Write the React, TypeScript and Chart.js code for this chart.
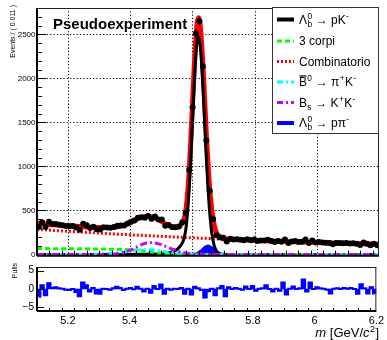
import React, { useEffect, useRef } from 'react';
import { Chart, registerables } from 'chart.js';

Chart.register(...registerables);

const FONT = '"Liberation Sans", Arial, Helvetica, sans-serif';

// ---------- data: binned pseudo-experiment (bin width 0.011 GeV/c^2) ----------
const binCenters: number[] = [
  5.1055, 5.1165, 5.1275, 5.1385, 5.1495, 5.1605, 5.1715, 5.1825, 5.1935, 5.2045,
  5.2155, 5.2265, 5.2375, 5.2485, 5.2595, 5.2705, 5.2815, 5.2925, 5.3035, 5.3145,
  5.3255, 5.3365, 5.3475, 5.3585, 5.3695, 5.3805, 5.3915, 5.4025, 5.4135, 5.4245,
  5.4355, 5.4465, 5.4575, 5.4685, 5.4795, 5.4905, 5.5015, 5.5125, 5.5235, 5.5345,
  5.5455, 5.5565, 5.5675, 5.5785, 5.5895, 5.6005, 5.6115, 5.6225, 5.6335, 5.6445,
  5.6555, 5.6665, 5.6775, 5.6885, 5.6995, 5.7105, 5.7215, 5.7325, 5.7435, 5.7545,
  5.7655, 5.7765, 5.7875, 5.7985, 5.8095, 5.8205, 5.8315, 5.8425, 5.8535, 5.8645,
  5.8755, 5.8865, 5.8975, 5.9085, 5.9195, 5.9305, 5.9415, 5.9525, 5.9635, 5.9745,
  5.9855, 5.9965, 6.0075, 6.0185, 6.0295, 6.0405, 6.0515, 6.0625, 6.0735, 6.0845,
  6.0955, 6.1065, 6.1175, 6.1285, 6.1395, 6.1505, 6.1615, 6.1725, 6.1835, 6.1945,
];
const binHalfWidth = 0.0055;

const dataCounts: number[] = [
  311, 366, 312, 371, 344, 345, 337, 332, 323, 320,
  322, 306, 281, 347, 331, 299, 314, 285, 282, 307,
  306, 303, 312, 326, 329, 328, 351, 372, 384, 417,
  423, 416, 436, 405, 431, 395, 396, 326, 333, 310,
  309, 318, 366, 471, 958, 1672, 2510, 2650, 2136, 1295,
  724, 402, 218, 196, 189, 146, 178, 169, 172, 167,
  162, 172, 162, 170, 153, 158, 158, 166, 153, 142,
  151, 143, 169, 128, 146, 151, 142, 143, 170, 130,
  158, 136, 141, 136, 133, 129, 116, 130, 130, 126,
  128, 125, 126, 122, 107, 134, 121, 105, 122, 103,
];

const pulls: number[] = [
  -2.1, 1.0, -1.7, 1.6, 0.3, 0.5, 0.2, 0.1, -0.2, -0.3,
  0.0, -0.8, -2.0, 1.8, 1.0, -0.7, 0.3, -1.2, -1.3, 0.1,
  0.0, -0.2, 0.2, 0.6, 0.3, -0.3, 0.1, 0.3, -0.1, 0.6,
  0.1, -0.7, 0.1, -1.0, 0.8, 0.0, 1.2, -1.3, 0.1, -0.2,
  0.1, 0.0, 0.3, -1.3, 0.1, -1.5, 0.6, 0.2, -0.3, -2.3,
  -0.6, 0.1, -1.7, 0.2, 0.8, -2.0, 0.5, 0.0, 0.3, 0.1,
  -0.2, 0.7, 0.0, 0.8, -0.5, 0.1, 0.2, 1.0, 0.0, -0.7,
  0.1, -0.5, 1.8, -1.5, 0.1, 0.7, 0.0, 0.2, 2.6, -0.7,
  1.8, 0.0, 0.5, 0.2, 0.1, -0.2, -1.2, 0.1, 0.2, 0.0,
  0.3, 0.1, 0.3, 0.0, -1.3, 1.3, 0.2, -1.2, 0.5, -1.2,
];

// ---------- fit curves (events per bin) ----------
const fitMass: number[] = [
  5.10, 5.15, 5.20, 5.25, 5.30, 5.35, 5.38, 5.40, 5.42, 5.44,
  5.46, 5.48, 5.50, 5.52, 5.54, 5.55, 5.56, 5.57, 5.575, 5.58,
  5.585, 5.59, 5.595, 5.60, 5.605, 5.61, 5.615, 5.619, 5.625, 5.63,
  5.635, 5.64, 5.645, 5.65, 5.655, 5.66, 5.665, 5.67, 5.675, 5.68,
  5.69, 5.70, 5.72, 5.75, 5.80, 5.85, 5.90, 5.95, 6.00, 6.05,
  6.10, 6.15, 6.20,
];
const fitTotal: number[] = [
  351, 338, 326, 315, 305, 309, 332, 362, 398, 427,
  434, 414, 376, 335, 307, 308, 325, 372, 426, 531,
  717, 984, 1321, 1699, 2079, 2410, 2625, 2688, 2596, 2371,
  2056, 1700, 1344, 1026, 766, 570, 430, 332, 267, 227,
  189, 177, 171, 167, 160, 153, 147, 141, 136, 130,
  125, 120, 115,
];
const sigLbToPK: number[] = [
  0, 0, 0, 0, 0, 0, 0, 0, 1, 2,
  3, 5, 8, 16, 35, 55, 90, 150, 210, 320,
  510, 780, 1120, 1500, 1880, 2210, 2420, 2475, 2370, 2130,
  1800, 1430, 1065, 745, 490, 305, 180, 100, 52, 26,
  6, 1, 0, 0, 0, 0, 0, 0, 0, 0,
  0, 0, 0,
];
const treCorpi: number[] = [
  66, 65, 64, 63, 61, 58, 55, 52, 47, 40,
  31, 22, 14, 7, 3, 1, 0, 0, 0, 0,
  0, 0, 0, 0, 0, 0, 0, 0, 0, 0,
  0, 0, 0, 0, 0, 0, 0, 0, 0, 0,
  0, 0, 0, 0, 0, 0, 0, 0, 0, 0,
  0, 0, 0,
];
const combinatorio: number[] = [
  285, 273, 262, 252, 242, 232, 226, 223, 219, 215,
  212, 208, 205, 202, 198, 197, 195, 193, 192, 191,
  191, 190, 189, 188, 188, 187, 186, 186, 185, 184,
  184, 183, 182, 181, 180, 179, 179, 178, 177, 176,
  175, 174, 171, 167, 160, 153, 147, 141, 136, 130,
  125, 120, 115,
];
const b0ToPiK: number[] = [
  0, 0, 0, 0, 2, 14, 28, 39, 49, 54,
  54, 49, 39, 28, 18, 14, 10, 7, 6, 5,
  4, 4, 3, 2, 2, 1, 1, 1, 1, 1,
  0, 0, 0, 0, 0, 0, 0, 0, 0, 0,
  0, 0, 0, 0, 0, 0, 0, 0, 0, 0,
  0, 0, 0,
];
const bsToKK: number[] = [
  0, 0, 0, 0, 0, 5, 23, 48, 82, 116,
  134, 130, 110, 82, 53, 41, 30, 22, 18, 15,
  12, 10, 8, 7, 5, 4, 3, 3, 2, 2,
  1, 1, 1, 0, 0, 0, 0, 0, 0, 0,
  0, 0, 0, 0, 0, 0, 0, 0, 0, 0,
  0, 0, 0,
];
const lbToPPi: number[] = [
  0, 0, 0, 0, 0, 0, 0, 0, 0, 0,
  0, 0, 0, 0, 0, 0, 0, 0, 0, 0,
  0, 0, 1, 2, 4, 8, 15, 23, 38, 54,
  71, 86, 96, 100, 96, 86, 71, 54, 38, 25,
  8, 2, 0, 0, 0, 0, 0, 0, 0, 0,
  0, 0, 0,
];

// ---------- axes ----------
const xMin = 5.1;
const xMax = 6.2;
const xTicks: number[] = [5.2, 5.4, 5.6, 5.8, 6.0, 6.2];
const xTickLabels: string[] = ['5.2', '5.4', '5.6', '5.8', '6', '6.2'];
const yTicksMain: number[] = [0, 500, 1000, 1500, 2000, 2500];
const yMinMain = -15;
const yMaxMain = 2800;
const pullTicks: number[] = [-5, 0, 5];
const pullTickLabels: string[] = ['\u22125', '0', '5'];

// ---------- rich text helper ----------
type Part = { t?: string; sup?: string; sub?: string; italic?: boolean; bar?: boolean };

function fnt(size: number, italic = false, bold = false) {
  return `${italic ? 'italic ' : ''}${bold ? 'bold ' : ''}${size}px ${FONT}`;
}

function partWidth(ctx: CanvasRenderingContext2D, p: Part, size: number) {
  if (p.t !== undefined) {
    ctx.font = fnt(size, !!p.italic);
    return ctx.measureText(p.t).width;
  }
  ctx.font = fnt(size * 0.7);
  const a = p.sup ? ctx.measureText(p.sup).width : 0;
  const b = p.sub ? ctx.measureText(p.sub).width : 0;
  return Math.max(a, b) + size * 0.06;
}

function drawRich(ctx: CanvasRenderingContext2D, parts: Part[], x: number, y: number, size: number, align: 'left' | 'right') {
  ctx.save();
  ctx.textAlign = 'left';
  ctx.textBaseline = 'alphabetic';
  const widths = parts.map((p) => partWidth(ctx, p, size));
  const total = widths.reduce((s, w) => s + w, 0);
  let cx = align === 'right' ? x - total : x;
  parts.forEach((p, i) => {
    if (p.t !== undefined) {
      ctx.font = fnt(size, !!p.italic);
      ctx.fillText(p.t, cx, y);
      if (p.bar) {
        ctx.save();
        ctx.strokeStyle = ctx.fillStyle as string;
        ctx.lineWidth = 1.2;
        ctx.beginPath();
        ctx.moveTo(cx + 0.5, y - size * 0.86);
        ctx.lineTo(cx + widths[i] - 0.5, y - size * 0.86);
        ctx.stroke();
        ctx.restore();
      }
    } else {
      ctx.font = fnt(size * 0.7);
      if (p.sup) ctx.fillText(p.sup, cx + size * 0.03, y - size * 0.42);
      if (p.sub) ctx.fillText(p.sub, cx + size * 0.03, y + size * 0.24);
    }
    cx += widths[i];
  });
  ctx.restore();
}

const legendEntries: { parts: Part[]; color: string; width: number; dash: number[] }[] = [
  { parts: [{ t: 'Λ' }, { sup: '0', sub: 'b' }, { t: ' → pK' }, { sup: '-' }], color: '#000000', width: 4, dash: [] },
  { parts: [{ t: '3 corpi' }], color: '#00ff00', width: 3, dash: [5, 3] },
  { parts: [{ t: 'Combinatorio' }], color: '#ff0000', width: 3, dash: [2, 2] },
  { parts: [{ t: 'B', bar: true }, { sup: '0' }, { t: ' → π' }, { sup: '+' }, { t: 'K' }, { sup: '-' }], color: '#00ffff', width: 3, dash: [6, 3, 2, 3] },
  { parts: [{ t: 'B' }, { sub: 's' }, { t: ' → K' }, { sup: '+' }, { t: 'K' }, { sup: '-' }], color: '#cc00ff', width: 3, dash: [6, 3, 2, 3] },
  { parts: [{ t: 'Λ' }, { sup: '0', sub: 'b' }, { t: ' → pπ' }, { sup: '-' }], color: '#0000ff', width: 4, dash: [] },
];

function curve(label: string, values: number[], color: string, width: number, dash: number[], extra: any = {}) {
  return {
    label,
    data: fitMass.map((x, i) => ({ x, y: values[i] })),
    borderColor: color,
    backgroundColor: color,
    borderWidth: width,
    borderDash: dash,
    pointRadius: 0,
    pointHoverRadius: 0,
    cubicInterpolationMode: 'monotone',
    fill: false,
    ...extra,
  };
}

const mainDecor = {
  id: 'mainDecor',
  beforeDatasetsDraw(chart: any) {
    const { ctx, chartArea: a, scales } = chart;
    const sx = scales.x;
    const sy = scales.y;
    ctx.save();
    ctx.strokeStyle = '#000';
    ctx.lineWidth = 1;
    ctx.setLineDash([1.2, 2.1]);
    xTicks.forEach((v) => {
      const px = Math.round(sx.getPixelForValue(v)) + 0.5;
      if (px >= a.right - 1) return;
      ctx.beginPath();
      ctx.moveTo(px, a.top);
      ctx.lineTo(px, a.bottom);
      ctx.stroke();
    });
    yTicksMain.forEach((v) => {
      if (v === 0) return;
      const py = Math.round(sy.getPixelForValue(v)) + 0.5;
      ctx.beginPath();
      ctx.moveTo(a.left, py);
      ctx.lineTo(a.right, py);
      ctx.stroke();
    });
    ctx.restore();
  },
  beforeDatasetDraw(chart: any, args: any) {
    if (args.index !== 0) return;
    const { ctx, scales } = chart;
    const sx = scales.x;
    const sy = scales.y;
    ctx.save();
    ctx.strokeStyle = '#000';
    binCenters.forEach((c, i) => {
      const v = dataCounts[i];
      const e = Math.sqrt(v);
      const px = sx.getPixelForValue(c);
      ctx.lineWidth = 1;
      ctx.beginPath();
      ctx.moveTo(px, sy.getPixelForValue(v - e));
      ctx.lineTo(px, sy.getPixelForValue(v + e));
      ctx.stroke();
      ctx.lineWidth = 1.5;
      ctx.beginPath();
      ctx.moveTo(sx.getPixelForValue(c - binHalfWidth), sy.getPixelForValue(v));
      ctx.lineTo(sx.getPixelForValue(c + binHalfWidth), sy.getPixelForValue(v));
      ctx.stroke();
    });
    ctx.restore();
  },
  afterDraw(chart: any) {
    const { ctx, chartArea: a, scales } = chart;
    const sx = scales.x;
    const sy = scales.y;
    ctx.save();
    ctx.setLineDash([]);
    ctx.strokeStyle = '#000';
    // ticks (inward)
    ctx.lineWidth = 1;
    for (let v = 100; v < yMaxMain; v += 100) {
      const py = Math.round(sy.getPixelForValue(v)) + 0.5;
      const len = v % 500 === 0 ? 9 : 5;
      ctx.beginPath();
      ctx.moveTo(a.left, py);
      ctx.lineTo(a.left + len, py);
      ctx.stroke();
    }
    for (let k = 1; k < 28; k++) {
      const v = xMin + k * 0.04;
      const px = Math.round(sx.getPixelForValue(v)) + 0.5;
      const isMajor = Math.abs((v - 5.2) / 0.2 - Math.round((v - 5.2) / 0.2)) < 1e-6;
      const len = isMajor ? 9 : 5;
      ctx.beginPath();
      ctx.moveTo(px, a.bottom);
      ctx.lineTo(px, a.bottom - len);
      ctx.stroke();
    }
    // frame
    ctx.lineWidth = 1;
    ctx.strokeStyle = '#222';
    ctx.beginPath();
    ctx.moveTo(a.left, a.top + 0.5);
    ctx.lineTo(a.right, a.top + 0.5);
    ctx.moveTo(a.right - 0.5, a.top);
    ctx.lineTo(a.right - 0.5, a.bottom);
    ctx.stroke();
    ctx.strokeStyle = '#000';
    ctx.lineWidth = 2;
    ctx.beginPath();
    ctx.moveTo(a.left, a.top);
    ctx.lineTo(a.left, a.bottom);
    ctx.moveTo(a.left, a.bottom);
    ctx.lineTo(a.right, a.bottom);
    ctx.stroke();

    // title
    ctx.fillStyle = '#000';
    ctx.font = fnt(15, false, true);
    ctx.textAlign = 'left';
    ctx.textBaseline = 'alphabetic';
    ctx.fillText('Pseudoexperiment', 53, 28.5);

    // y title
    ctx.save();
    ctx.translate(14.5, 5);
    ctx.rotate(-Math.PI / 2);
    ctx.font = fnt(7);
    ctx.textAlign = 'right';
    ctx.fillText('Events / ( 0.011 )', 0, 0);
    ctx.restore();

    // legend
    const L = 272.5, T = 7.5, R = 378.5, B = 133.5;
    ctx.fillStyle = '#fff';
    ctx.fillRect(L, T, R - L, B - T);
    ctx.strokeStyle = '#333';
    ctx.lineWidth = 1;
    ctx.strokeRect(L, T, R - L, B - T);
    const rows = [19.5, 41, 61.5, 82, 102.5, 123];
    legendEntries.forEach((e, i) => {
      const y = rows[i];
      ctx.beginPath();
      ctx.strokeStyle = e.color;
      ctx.lineWidth = e.width;
      ctx.setLineDash(e.dash);
      ctx.moveTo(277, y);
      ctx.lineTo(294, y);
      ctx.stroke();
      ctx.setLineDash([]);
      ctx.fillStyle = '#000';
      drawRich(ctx, e.parts, 299, y + 4.3, 12, 'left');
    });
    ctx.restore();
  },
};

const pullDecor = {
  id: 'pullDecor',
  afterDraw(chart: any) {
    const { ctx, chartArea: a, scales } = chart;
    const sx = scales.x;
    const sy = scales.y;
    ctx.save();
    ctx.strokeStyle = '#000';
    ctx.lineWidth = 1;
    pullTicks.forEach((v) => {
      const py = Math.round(sy.getPixelForValue(v)) + 0.5;
      ctx.beginPath();
      ctx.moveTo(a.left, py);
      ctx.lineTo(a.left + 7, py);
      ctx.stroke();
    });
    for (let k = 1; k < 28; k++) {
      const v = xMin + k * 0.04;
      const px = Math.round(sx.getPixelForValue(v)) + 0.5;
      const isMajor = Math.abs((v - 5.2) / 0.2 - Math.round((v - 5.2) / 0.2)) < 1e-6;
      const len = isMajor ? 6 : 3;
      ctx.beginPath();
      ctx.moveTo(px, a.bottom);
      ctx.lineTo(px, a.bottom - len);
      ctx.stroke();
    }
    ctx.strokeStyle = '#222';
    ctx.beginPath();
    ctx.moveTo(a.left, a.top + 0.5);
    ctx.lineTo(a.right, a.top + 0.5);
    ctx.moveTo(a.right - 0.5, a.top);
    ctx.lineTo(a.right - 0.5, a.bottom);
    ctx.stroke();
    ctx.strokeStyle = '#000';
    ctx.lineWidth = 2;
    ctx.beginPath();
    ctx.moveTo(a.left, a.top);
    ctx.lineTo(a.left, a.bottom);
    ctx.moveTo(a.left, a.bottom);
    ctx.lineTo(a.right, a.bottom);
    ctx.stroke();

    ctx.fillStyle = '#000';
    ctx.save();
    ctx.translate(17, 5);
    ctx.rotate(-Math.PI / 2);
    ctx.font = fnt(7);
    ctx.textAlign = 'right';
    ctx.fillText('Pulls', 0, 0);
    ctx.restore();

    drawRich(ctx, [{ t: 'm', italic: true }, { t: ' [GeV/' }, { t: 'c', italic: true }, { sup: '2' }, { t: ']' }], 379, 79, 13, 'right');
    ctx.restore();
  },
};

function mainConfig(): any {
  return {
    type: 'line',
    data: {
      datasets: [
        {
          label: 'Dati',
          data: binCenters.map((x, i) => ({ x, y: dataCounts[i] })),
          showLine: false,
          pointRadius: 3,
          pointHoverRadius: 3,
          pointBorderWidth: 0,
          pointBackgroundColor: '#000',
          borderColor: '#000',
        },
        curve('Bs → K+K-', bsToKK, '#cc00ff', 3, [7, 3, 2, 3]),
        curve('B0bar → π+K-', b0ToPiK, '#00ffff', 3, [6, 3, 2, 3]),
        curve('3 corpi', treCorpi, '#00ff00', 3, [5, 3]),
        curve('Λb → pK-', sigLbToPK, '#000000', 3, []),
        curve('Λb → pπ-', lbToPPi, '#0000ff', 2, [], { fill: 'origin' }),
        curve('Combinatorio', combinatorio, '#ff0000', 3, [2, 2]),
        curve('Totale', fitTotal, '#ff0000', 5, []),
      ],
    },
    options: {
      responsive: false,
      animation: false,
      devicePixelRatio: 1,
      layout: { padding: { left: 0, right: 8, top: 8, bottom: 3 } },
      plugins: { legend: { display: false }, tooltip: { enabled: false } },
      events: [],
      scales: {
        x: { type: 'linear', min: xMin, max: xMax, display: false },
        y: {
          type: 'linear',
          min: yMinMain,
          max: yMaxMain,
          afterBuildTicks: (s: any) => {
            s.ticks = yTicksMain.map((v) => ({ value: v }));
          },
          afterFit: (s: any) => {
            s.width = 37;
          },
          ticks: { font: { family: FONT, size: 8 }, color: '#000', padding: 1.5, callback: (v: any) => String(v) },
          grid: { display: false, drawTicks: false },
          border: { display: false },
        },
      },
    },
    plugins: [mainDecor],
  };
}

function pullConfig(): any {
  const pts = binCenters.map((x, i) => ({ x, y: pulls[i] }));
  return {
    type: 'bar',
    data: {
      datasets: [
        {
          type: 'line',
          label: 'Pull outline',
          data: pts,
          stepped: 'middle',
          borderColor: '#0000ff',
          borderWidth: 2,
          pointRadius: 0,
          fill: false,
        },
        {
          type: 'bar',
          label: 'Pulls',
          data: pts,
          backgroundColor: '#0000ff',
          borderWidth: 0,
          barPercentage: 1,
          categoryPercentage: 1,
        },
      ],
    },
    options: {
      responsive: false,
      animation: false,
      devicePixelRatio: 1,
      layout: { padding: { left: 0, right: 8, top: 4, bottom: 0 } },
      plugins: { legend: { display: false }, tooltip: { enabled: false } },
      events: [],
      scales: {
        x: {
          type: 'linear',
          min: xMin,
          max: xMax,
          offset: false,
          afterBuildTicks: (s: any) => {
            s.ticks = xTicks.map((v) => ({ value: v }));
          },
          afterFit: (s: any) => {
            s.height = 29;
          },
          ticks: {
            font: { family: FONT, size: 11 },
            color: '#000',
            padding: 3,
            maxRotation: 0,
            autoSkip: false,
            callback: (v: any) => {
              const i = xTicks.findIndex((t) => Math.abs(t - Number(v)) < 1e-6);
              return i >= 0 ? xTickLabels[i] : '';
            },
          },
          grid: { display: false, drawTicks: false },
          border: { display: false },
        },
        y: {
          type: 'linear',
          min: -6,
          max: 6,
          afterBuildTicks: (s: any) => {
            s.ticks = pullTicks.map((v) => ({ value: v }));
          },
          afterFit: (s: any) => {
            s.width = 37;
          },
          ticks: {
            font: { family: FONT, size: 10 },
            color: '#000',
            padding: 3,
            callback: (v: any) => {
              const i = pullTicks.findIndex((t) => Math.abs(t - Number(v)) < 1e-6);
              return i >= 0 ? pullTickLabels[i] : '';
            },
          },
          grid: { display: false, drawTicks: false },
          border: { display: false },
        },
      },
    },
    plugins: [pullDecor],
  };
}

export default function App() {
  const mainRef = useRef<HTMLCanvasElement>(null);
  const pullRef = useRef<HTMLCanvasElement>(null);
  useEffect(() => {
    const c1 = new Chart(mainRef.current as HTMLCanvasElement, mainConfig());
    const c2 = new Chart(pullRef.current as HTMLCanvasElement, pullConfig());
    return () => {
      c1.destroy();
      c2.destroy();
    };
  }, []);
  return (
    <div style={{ position: 'absolute', left: 0, top: 0, width: 387, height: 340, background: '#fff', overflow: 'hidden' }}>
      <canvas ref={mainRef} width={387} height={262} style={{ position: 'absolute', left: 0, top: 0, width: 387, height: 262 }} />
      <canvas ref={pullRef} width={387} height={82} style={{ position: 'absolute', left: 0, top: 258, width: 387, height: 82 }} />
    </div>
  );
}
